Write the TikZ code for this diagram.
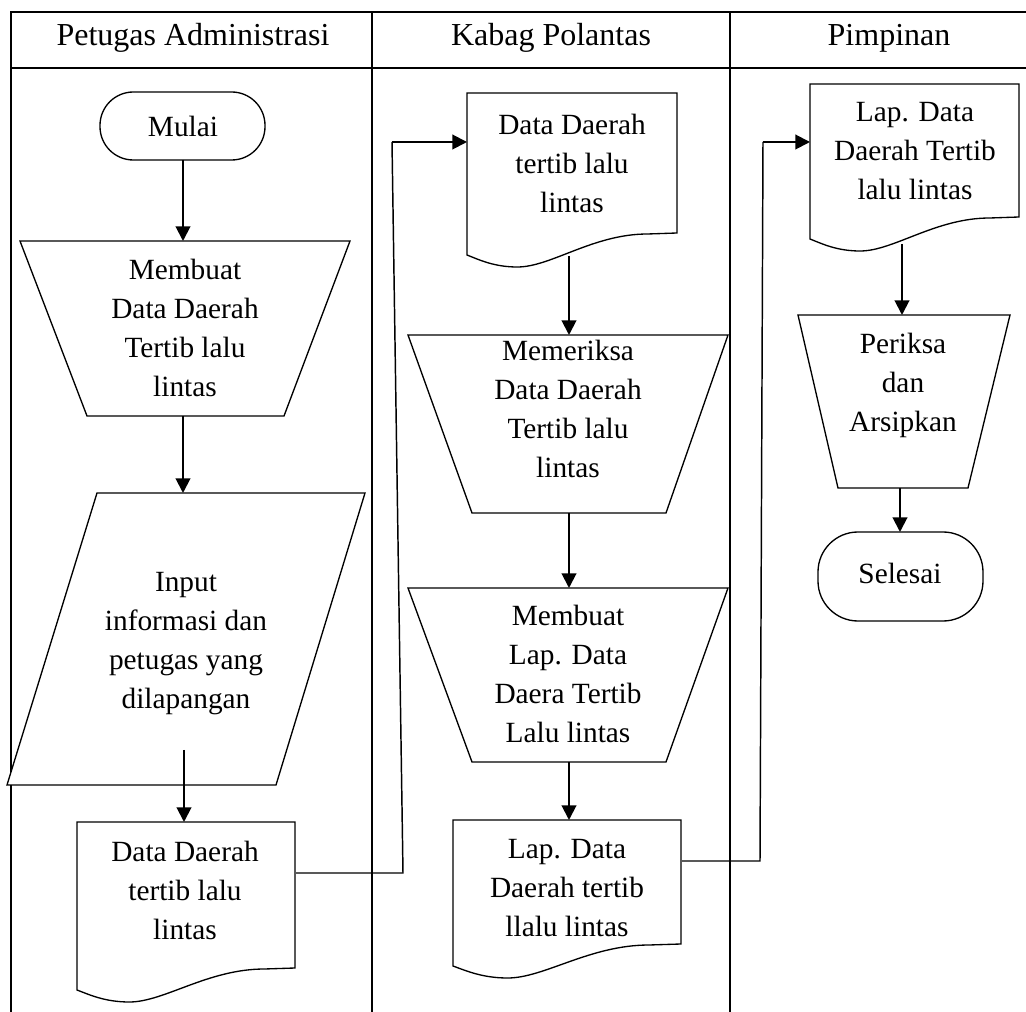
\documentclass[tikz,border=0pt]{standalone}
\usepackage{fontspec}
\setmainfont{Liberation Serif}
\usetikzlibrary{arrows.meta}
\tikzset{
  tbl/.style={line width=1.3pt},
  shp/.style={line width=1pt, fill=white},
  arr/.style={line width=1.5pt, -{Triangle[length=11pt,width=11pt]}},
  link/.style={line width=1.1pt},
  txt/.style={align=center, inner sep=0pt, font=\fontsize{22}{29.25}\selectfont},
  hdr/.style={inner sep=0pt, font=\fontsize{24}{28}\selectfont},
}
% document shape: left, right, top, right-bottom y
\newcommand\docshape[4]{%
  \draw[shp] (#1,#3) -- (#2,#3) -- (#2,#4) -- ({#2-0.14*(#2-#1)},{#4+1})
    .. controls ({#1+0.6*(#2-#1)},{#4+1}) and ({#1+0.4*(#2-#1)},{#4+34}) .. ({#1+0.24*(#2-#1)},{#4+34})
    .. controls ({#1+0.13*(#2-#1)},{#4+34}) and ({#1+0.06*(#2-#1)},{#4+27}) .. (#1,{#4+22}) -- cycle;}
\begin{document}
\begin{tikzpicture}[x=0.75pt,y=-0.75pt]
\useasboundingbox (0,0) rectangle (1026,1012);
% swimlane table
\draw[tbl] (11,1012) -- (11,12) -- (1026,12);
\draw[tbl] (11,68) -- (1026,68);
\draw[tbl] (372,12) -- (372,1012);
\draw[tbl] (730,12) -- (730,1012);
\node[hdr] (h1) at (193,38) {Petugas Administrasi};
\node[hdr] (h2) at (551,38) {Kabag Polantas};
\node[hdr] (h3) at (889,38) {Pimpinan};

% ---- Lane 1 ----
\draw[shp, rounded corners=25pt] (100,92) rectangle (265,160);
\node[txt] (mulai) at (183,126) {Mulai};
\coordinate (mulaiB) at (183,160);

\draw[shp] (20,241) -- (350,241) -- (284,416) -- (87,416) -- cycle;
\node[txt] (buat) at (185,328) {Membuat\\Data Daerah\\Tertib lalu\\lintas};
\coordinate (buatT) at (183,241);
\coordinate (buatB) at (183,416);

\draw[shp] (97,493) -- (365,493) -- (276,785) -- (7,785) -- cycle;
\node[txt] (input) at (186,644) {Input\\informasi dan\\petugas yang\\dilapangan};
\coordinate (inputT) at (183,493);
\coordinate (inputS) at (184,750);

\docshape{77}{295}{822}{968}
\node[txt] (data1) at (185,890) {Data Daerah\\tertib lalu\\lintas};
\coordinate (data1T) at (184,822);
\coordinate (data1R) at (296,873);
\coordinate (bend1a) at (403,873);
\coordinate (bend1b) at (392,142);

% ---- Lane 2 ----
\docshape{467}{677}{93}{233}
\node[txt] (data2) at (572,163) {Data Daerah\\tertib lalu\\lintas};
\coordinate (data2L) at (467,142);
\coordinate (data2B) at (569,256);

\draw[shp] (408,335) -- (728,335) -- (666,513) -- (472,513) -- cycle;
\node[txt] (periksa) at (568,409) {Memeriksa\\Data Daerah\\Tertib lalu\\lintas};
\coordinate (periksaT) at (569,335);
\coordinate (periksaB) at (569,513);

\draw[shp] (408,588) -- (728,588) -- (666,762) -- (472,762) -- cycle;
\node[txt] (lap) at (568,674) {Membuat\\Lap. Data\\Daera Tertib\\Lalu lintas};
\coordinate (lapT) at (569,588);
\coordinate (lapB) at (569,762);

\docshape{453}{681}{820}{944}
\node[txt] (data3) at (567,888) {Lap. Data\\Daerah tertib\\llalu lintas};
\coordinate (data3T) at (569,820);
\coordinate (data3R) at (682,861);
\coordinate (bend2a) at (760,861);
\coordinate (bend2b) at (763,142);

% ---- Lane 3 ----
\docshape{810}{1019}{84}{217}
\node[txt] (data4) at (915,151) {Lap. Data\\Daerah Tertib\\lalu lintas};
\coordinate (data4L) at (810,142);
\coordinate (data4B) at (902,244);

\draw[shp] (798,315) -- (1010,315) -- (968,488) -- (838,488) -- cycle;
\node[txt] (arsip) at (903,385) {Periksa\\dan\\Arsipkan};
\coordinate (arsipT) at (902,315);
\coordinate (arsipB) at (900,488);

\draw[shp, rounded corners=30pt] (818,532) rectangle (983,621);
\node[txt] (selesai) at (900,573) {Selesai};
\coordinate (selesaiT) at (900,532);

% ---- connectors ----
\draw[arr] (mulaiB) -- (buatT);
\draw[arr] (buatB) -- (inputT);
\draw[arr] (inputS) -- (data1T);
\draw[link] (data1R) -- (bend1a) -- (bend1b);
\draw[arr] (bend1b) -- (data2L);
\draw[arr] (data2B) -- (periksaT);
\draw[arr] (periksaB) -- (lapT);
\draw[arr] (lapB) -- (data3T);
\draw[link] (data3R) -- (bend2a) -- (bend2b);
\draw[arr] (bend2b) -- (data4L);
\draw[arr] (data4B) -- (arsipT);
\draw[arr] (arsipB) -- (selesaiT);
\end{tikzpicture}
\end{document}
